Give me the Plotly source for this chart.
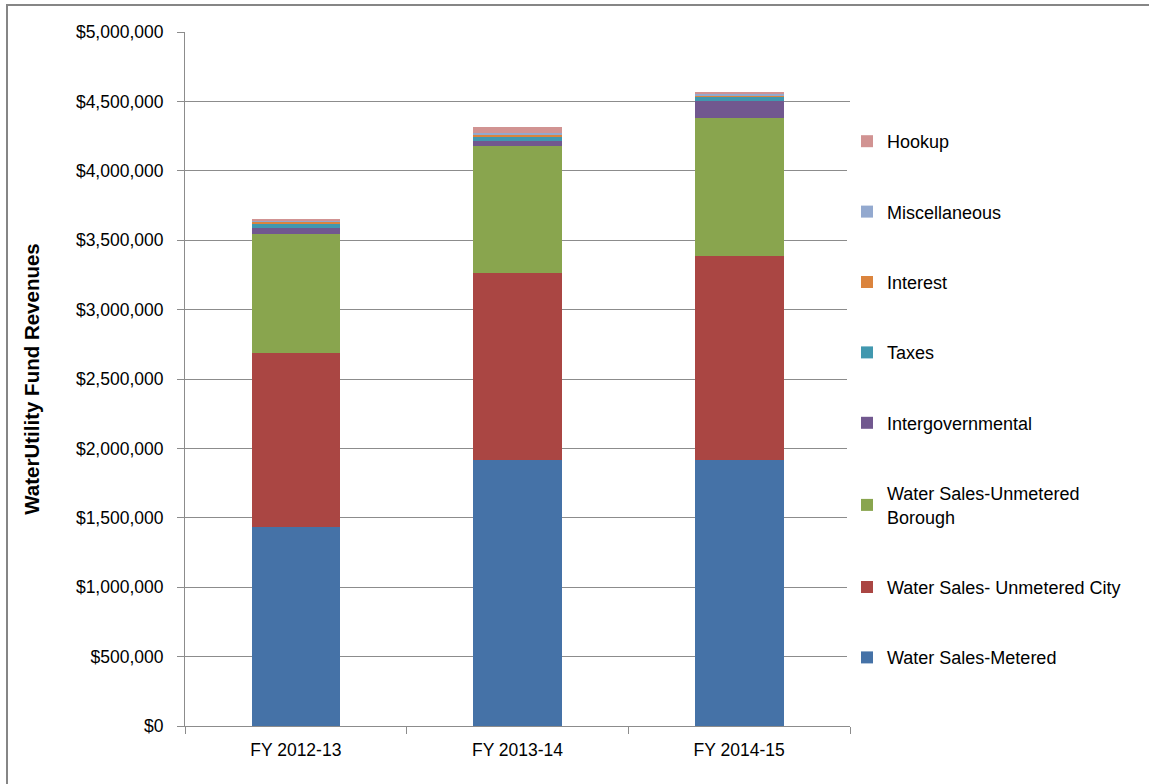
import plotly.graph_objects as go

categories = ["FY 2012-13", "FY 2013-14", "FY 2014-15"]
metered = [1435000, 1916000, 1916000]
unmetered_city = [1252000, 1348000, 1470000]
unmetered_borough = [858000, 915000, 995000]
intergovernmental = [41000, 38000, 125000]
taxes = [29000, 29000, 26000]
interest = [17000, 14000, 14000]
miscellaneous = [10000, 14000, 5000]
hookup = [14000, 43000, 20000]

series = [
    ("Water Sales-Metered", metered, "#4572A7"),
    ("Water Sales- Unmetered City", unmetered_city, "#AA4643"),
    ("Water Sales-Unmetered<br>Borough", unmetered_borough, "#89A54E"),
    ("Intergovernmental", intergovernmental, "#71588F"),
    ("Taxes", taxes, "#4198AF"),
    ("Interest", interest, "#DB843D"),
    ("Miscellaneous", miscellaneous, "#93A9CF"),
    ("Hookup", hookup, "#D19392"),
]

fig = go.Figure()
n = len(series)
for i, (name, vals, color) in enumerate(series):
    fig.add_trace(go.Bar(
        x=categories, y=vals, name=name, marker_color=color,
        marker_line_width=0, legendgroup=str(i), legendrank=100 * (n - i),
    ))

L, R, T, B = 185, 299, 32, 58
W, H = 1149, 784
pw, ph = W - L - R, H - T - B

fig.update_layout(
    width=W, height=H,
    margin=dict(l=L, r=R, t=T, b=B, autoexpand=False),
    barmode="stack", bargap=0.6,
    plot_bgcolor="white", paper_bgcolor="white",
    font=dict(family="Liberation Sans, Arial, sans-serif", size=17.5, color="#000000"),
    legend=dict(
        x=(847 - L) / pw, xanchor="left",
        y=1 - (123 - T) / ph, yanchor="top",
        traceorder="grouped", tracegroupgap=44,
        font=dict(size=18), itemwidth=30,
    ),
    yaxis=dict(
        range=[0, 5000000], dtick=500000, tickprefix="$", tickformat=",",
        showgrid=True, gridcolor="#8C8C8C", gridwidth=1,
        showline=True, linecolor="#8C8C8C", linewidth=1,
        ticks="outside", ticklen=7, tickcolor="#8C8C8C",
        ticklabelstandoff=10,
        zeroline=False,
        title=dict(text="<b>WaterUtility Fund Revenues</b>", font=dict(size=20.5), standoff=30),
    ),
    xaxis=dict(
        showline=True, linecolor="#8C8C8C", linewidth=1,
        ticks="outside", ticklen=7, tickcolor="#8C8C8C", tickson="boundaries",
        ticklabelstandoff=8,
    ),
    shapes=[dict(
        type="rect", xref="paper", yref="paper",
        x0=(7 - L) / pw, x1=(1160 - L) / pw,
        y0=-(800 - (H - B)) / ph, y1=1 + (T - 5) / ph,
        line=dict(color="#868686", width=2), fillcolor="rgba(0,0,0,0)", layer="below",
    )],
)

fig.write_html("out.html")
